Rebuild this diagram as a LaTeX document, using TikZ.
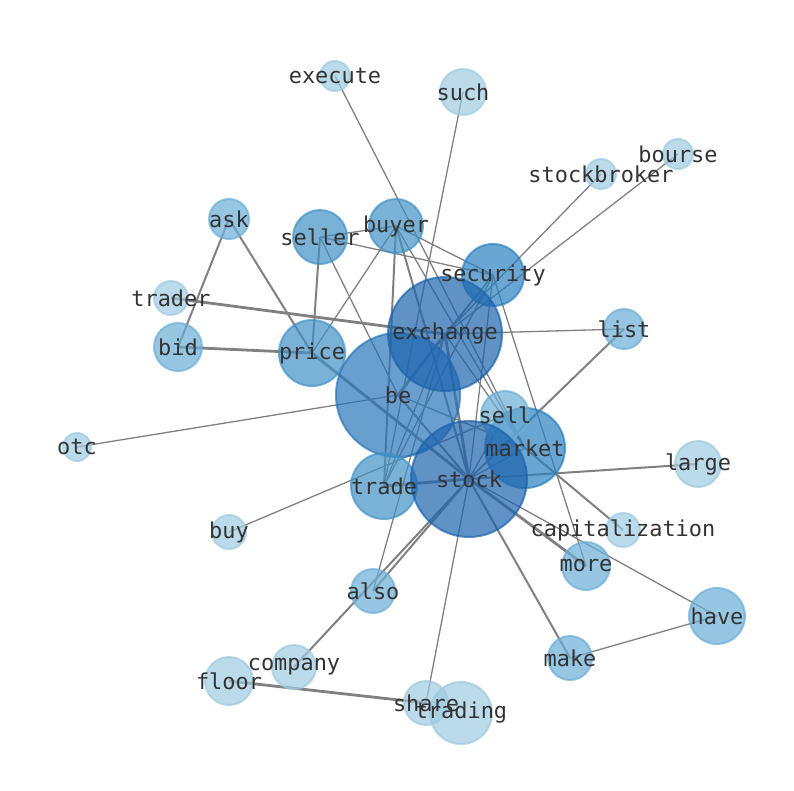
\documentclass[tikz,border=0pt]{standalone}
\usepackage{fontspec}
\setmonofont{DejaVu Sans Mono}
\pgfdeclarelayer{edges}
\pgfsetlayers{edges,main}
\definecolor{c1}{HTML}{9ECAE1}
\definecolor{c2}{HTML}{6BAED6}
\definecolor{c3}{HTML}{4292C6}
\definecolor{c4}{HTML}{2A80C0}
\definecolor{c5}{HTML}{2A76BA}
\definecolor{c6}{HTML}{1C64AE}
\definecolor{lblc}{HTML}{333333}
\tikzset{
  nd/.style 2 args={circle, inner sep=0pt, minimum size=#1pt, line width=2pt,
    fill=#2, draw=#2, fill opacity=0.7, draw opacity=0.7},
  lbl/.style={font=\ttfamily\fontsize{21.9}{24}\selectfont, text=lblc, inner sep=0pt},
  ed/.style={draw=black!50, line width=1.3pt},
  edm/.style={draw=black!50, line width=2pt},
  edk/.style={draw=black!50, line width=2.8pt},
}
\begin{document}
\begin{tikzpicture}[x=1pt,y=-1pt]
\useasboundingbox (0,0) rectangle (794,790);
% nodes
\node[nd={30}{c1}] (execute) at (335,76) {};
\node[nd={46}{c1}] (such) at (463,92) {};
\node[nd={30}{c1}] (bourse) at (678,154) {};
\node[nd={30}{c1}] (stockbroker) at (601,174) {};
\node[nd={40}{c2}] (ask) at (229,219) {};
\node[nd={54}{c3}] (seller) at (320,237) {};
\node[nd={54}{c3}] (buyer) at (396,226) {};
\node[nd={62}{c4}] (security) at (493,275) {};
\node[nd={34}{c1}] (trader) at (171,298) {};
\node[nd={40}{c2}] (list) at (624,329) {};
\node[nd={48}{c2}] (bid) at (178,347) {};
\node[nd={66}{c3}] (price) at (312,353) {};
\node[nd={124}{c5}] (be) at (398,395) {};
\node[nd={114}{c6}] (exchange) at (445,334) {};
\node[nd={80}{c4}] (market) at (525,448) {};
\node[nd={48}{c2}] (sell) at (505,415) {};
\node[nd={28}{c1}] (otc) at (77,447) {};
\node[nd={66}{c3}] (trade) at (384,486) {};
\node[nd={116}{c6}] (stock) at (469,479) {};
\node[nd={46}{c1}] (large) at (698,464) {};
\node[nd={34}{c1}] (buy) at (229,532) {};
\node[nd={34}{c1}] (capitalization) at (623,530) {};
\node[nd={48}{c2}] (more) at (586,566) {};
\node[nd={44}{c2}] (also) at (373,591) {};
\node[nd={56}{c2}] (have) at (717,616) {};
\node[nd={44}{c2}] (make) at (570,658) {};
\node[nd={44}{c1}] (company) at (294,667) {};
\node[nd={48}{c1}] (floor) at (229,681) {};
\node[nd={44}{c1}] (share) at (426,703) {};
\node[nd={62}{c1}] (trading) at (461,713) {};
% edges
\begin{pgfonlayer}{edges}
\draw[ed] (execute.center) -- (market.center);
\draw[ed] (such.center) -- (trade.center);
\draw[ed] (stockbroker.center) -- (exchange.center);
\draw[ed] (bourse.center) -- (exchange.center);
\draw[ed] (list.center) -- (exchange.center);
\draw[edm] (list.center) -- (stock.center);
\draw[edk] (trader.center) -- (exchange.center);
\draw[edk] (bid.center) -- (price.center);
\draw[edm] (ask.center) -- (bid.center);
\draw[edm] (ask.center) -- (price.center);
\draw[ed] (seller.center) -- (buyer.center);
\draw[edm] (seller.center) -- (price.center);
\draw[ed] (seller.center) -- (security.center);
\draw[ed] (seller.center) -- (be.center);
\draw[ed] (buyer.center) -- (price.center);
\draw[ed] (buyer.center) -- (security.center);
\draw[edm] (buyer.center) -- (trade.center);
\draw[edm] (buyer.center) -- (stock.center);
\draw[ed] (buyer.center) -- (market.center);
\draw[ed] (security.center) -- (exchange.center);
\draw[ed] (security.center) -- (be.center);
\draw[ed] (security.center) -- (trade.center);
\draw[ed] (security.center) -- (stock.center);
\draw[ed] (security.center) -- (more.center);
\draw[edk] (exchange.center) -- (be.center);
\draw[edk] (exchange.center) -- (stock.center);
\draw[ed] (exchange.center) -- (trade.center);
\draw[ed] (exchange.center) -- (market.center);
\draw[ed] (exchange.center) -- (also.center);
\draw[edm] (be.center) -- (stock.center);
\draw[ed] (be.center) -- (market.center);
\draw[ed] (otc.center) -- (be.center);
\draw[edk] (price.center) -- (stock.center);
\draw[ed] (stock.center) -- (market.center);
\draw[ed] (stock.center) -- (sell.center);
\draw[edk] (stock.center) -- (trade.center);
\draw[edm] (stock.center) -- (large.center);
\draw[edk] (stock.center) -- (more.center);
\draw[ed] (stock.center) -- (have.center);
\draw[edm] (stock.center) -- (make.center);
\draw[ed] (stock.center) -- (share.center);
\draw[edm] (stock.center) -- (also.center);
\draw[edm] (stock.center) -- (company.center);
\draw[ed] (buy.center) -- (sell.center);
\draw[ed] (market.center) -- (sell.center);
\draw[edm] (market.center) -- (capitalization.center);
\draw[ed] (make.center) -- (have.center);
\draw[edk] (floor.center) -- (share.center);
\end{pgfonlayer}
% labels
\foreach \n in {execute,such,bourse,stockbroker,ask,seller,buyer,security,trader,list,bid,price,be,exchange,market,sell,otc,trade,stock,large,buy,capitalization,more,also,have,make,company,floor,share,trading}
  \node[lbl] at (\n.center) {\n};
\end{tikzpicture}
\end{document}
